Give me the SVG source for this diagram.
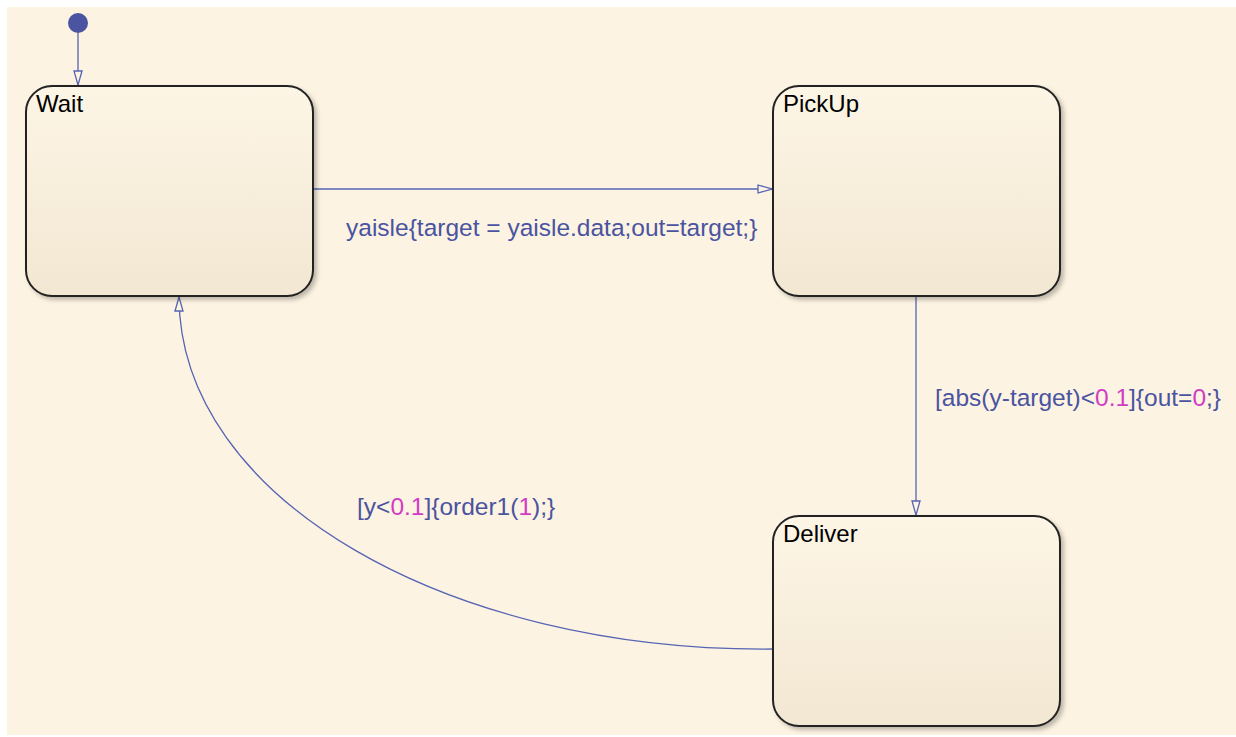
<svg xmlns="http://www.w3.org/2000/svg" width="1236" height="737" viewBox="0 0 1236 737">
<style>
.state{fill:url(#sg);stroke:#222;stroke-width:2;filter:url(#sh)}
.sname{font-family:"Liberation Sans",Arial,sans-serif;font-size:24px;fill:#000}
.lbl{font-family:"Liberation Sans",Arial,sans-serif;font-size:24.5px;fill:#4a54a0}
.num{fill:#d23cc4}
.tr{fill:none;stroke:#5664b4;stroke-width:1.3}
</style>
<defs>
<linearGradient id="sg" x1="0" y1="0" x2="0" y2="1">
<stop offset="0" stop-color="#fdf5e5"/>
<stop offset="1" stop-color="#f2e7d2"/>
</linearGradient>
<filter id="sh" x="-10%" y="-10%" width="125%" height="125%">
<feDropShadow dx="3" dy="3" stdDeviation="2" flood-color="#000" flood-opacity="0.25"/>
</filter>
<marker id="ah" viewBox="0 0 16 10" refX="16" refY="5" markerWidth="16" markerHeight="10" markerUnits="userSpaceOnUse" orient="auto">
<path d="M1,1 L15,5 L1,9 Z" fill="#fdf3e2" stroke="#5664b4" stroke-width="1.3"/>
</marker>
</defs>
<rect x="0" y="0" width="1236" height="737" fill="#ffffff"/>
<rect x="7" y="7" width="1229" height="728" fill="#fdf3e2"/>
<g id="connectors">
<circle cx="78" cy="23" r="10" fill="#4a54a0"/>
<path class="tr" d="M78,33 L78,86" marker-end="url(#ah)"/>
<path class="tr" d="M313,189 L773,189" marker-end="url(#ah)"/>
<path class="tr" d="M916,296 L916,516" marker-end="url(#ah)"/>
<path class="tr" d="M773,649 C450,652 179,500 179,296" marker-end="url(#ah)"/>
<text class="lbl" x="346" y="236">yaisle{target = yaisle.data;out=target;}</text>
<text class="lbl" x="935" y="406">[abs(y-target)&lt;<tspan class="num">0.1</tspan>]{out=<tspan class="num">0</tspan>;}</text>
<text class="lbl" x="357" y="515">[y&lt;<tspan class="num">0.1</tspan>]{order1(<tspan class="num">1</tspan>);}</text>
</g>
<g id="Wait">
<rect class="state" x="26" y="86" width="287" height="210" rx="26" ry="26"/>
<text class="sname" x="36" y="112">Wait</text>
</g>
<g id="PickUp">
<rect class="state" x="773" y="86" width="287" height="210" rx="26" ry="26"/>
<text class="sname" x="783" y="112">PickUp</text>
</g>
<g id="Deliver">
<rect class="state" x="773" y="516" width="287" height="210" rx="26" ry="26"/>
<text class="sname" x="783" y="542">Deliver</text>
</g>
</svg>
